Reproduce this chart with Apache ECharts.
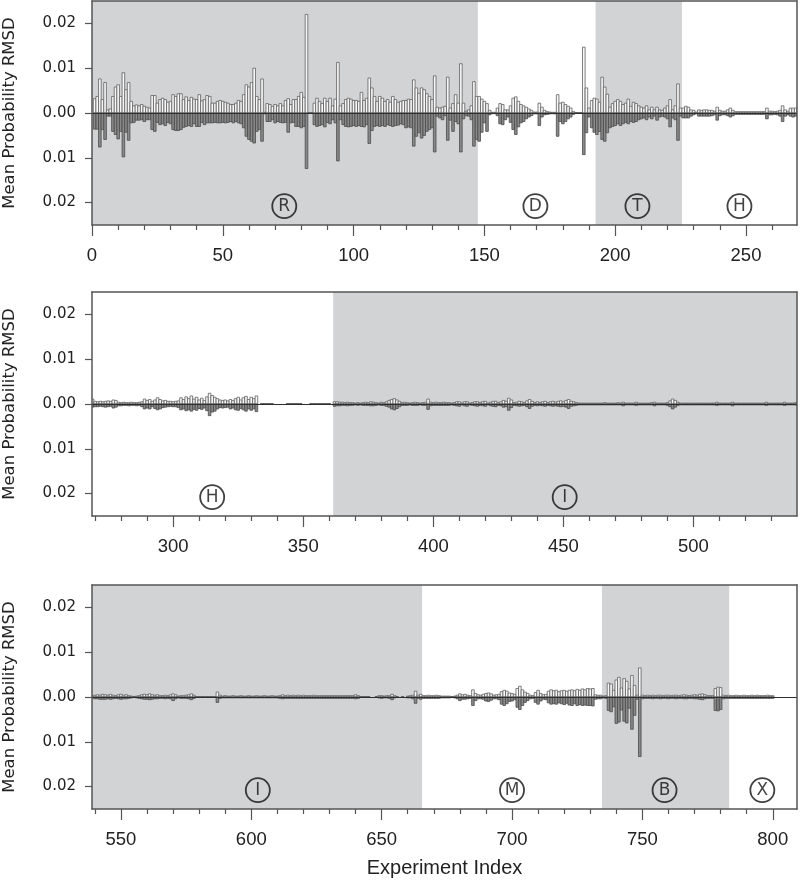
<!DOCTYPE html>
<html><head><meta charset="utf-8">
<script src="https://cdn.jsdelivr.net/npm/echarts@6/dist/echarts.min.js"></script>
<style>html,body{margin:0;padding:0;background:#fff}#c{width:800px;height:884px}</style>
</head><body><div id="c"></div>
<script>
// values in thousandths (x 0.001) of Mean Probability RMSD
// experiments 1..269
const up1 = [
3.2,3.7,7.6,3.0,6.8,0.7,0.9,3.7,5.8,6.3,
3.7,9.0,5.2,6.8,2.6,1.6,1.8,1.6,1.9,1.5,
1.3,1.1,3.9,3.9,2.2,3.0,3.3,3.0,2.4,2.6,
4.1,3.7,4.3,4.3,3.0,3.6,2.8,3.5,3.1,3.0,
4.1,2.7,3.0,3.9,3.7,2.2,2.2,2.6,2.8,2.6,
2.4,2.2,1.9,1.9,2.2,2.8,2.6,4.1,6.3,5.8,
6.8,10.0,3.7,3.0,7.6,0.15,2.1,1.9,1.5,1.9,
1.6,2.1,1.6,2.8,3.2,1.9,3.0,3.0,3.7,4.6,
3.5,22.0,0.1,0.1,2.2,3.3,2.6,2.1,3.3,2.6,
3.3,1.6,3.1,11.3,1.6,2.1,3.0,3.3,3.1,2.8,
2.8,2.6,4.6,2.8,3.3,7.8,5.6,3.7,2.6,3.7,
3.3,2.6,3.0,2.4,3.7,3.0,2.4,2.6,2.8,2.8,
3.1,3.0,7.4,5.6,4.4,5.6,5.2,4.3,3.7,3.0,
8.3,1.3,1.1,1.3,1.5,8.0,1.1,2.1,4.1,2.2,
11.0,2.2,0.4,0.7,1.6,7.0,3.7,3.7,3.1,2.6,
2.1,0.6,0.15,0.15,1.1,2.1,1.9,0.7,0.7,1.6,
3.3,3.6,2.6,1.9,1.6,1.3,0.9,0.6,0.2,0.2,
2.2,1.3,0.6,0.3,0.2,0.15,0.15,4.1,2.2,2.4,
1.9,1.5,1.1,0.3,0.1,0.1,0.1,14.7,5.6,1.1,
2.8,3.3,3.1,2.4,8.0,5.8,4.2,1.3,2.1,2.6,
3.0,2.6,1.9,2.2,3.1,1.5,2.4,2.1,1.6,1.3,
1.1,1.6,0.7,1.3,0.7,1.3,0.7,0.6,1.1,1.6,
3.0,0.7,1.6,6.5,1.1,1.1,1.5,1.3,0.7,0.6,
0.2,0.7,0.6,0.7,0.7,0.6,0.6,0.4,1.3,0.6,
0.4,0.4,0.7,1.1,0.6,0.3,0.3,0.3,0.3,0.3,
0.3,0.3,0.3,0.3,0.3,0.3,0.3,1.1,0.4,0.4,
0.3,0.4,0.6,1.6,0.7,0.4,1.1,1.1,1.1];
const down1 = [
3.6,3.6,7.6,3.7,5.9,0.7,0.7,4.1,4.8,5.8,
4.1,9.8,4.3,6.1,2.2,2.1,1.6,1.6,1.5,1.9,
1.5,1.5,3.7,4.1,2.1,2.6,2.4,2.8,2.1,2.4,
3.7,3.9,3.9,3.7,3.2,3.0,2.8,3.0,2.4,3.0,
3.0,2.1,2.6,2.2,2.2,2.2,2.1,2.2,2.2,2.1,
2.2,2.1,1.9,2.2,1.9,2.2,2.4,3.3,5.2,5.9,
6.3,6.7,4.1,3.7,6.3,0.2,1.9,1.9,1.5,2.2,
1.9,2.1,2.2,2.1,4.3,2.2,2.1,3.0,3.0,3.3,
3.0,12.4,0.1,0.1,2.6,3.0,2.8,2.6,3.1,2.1,
2.4,1.5,2.2,10.7,1.5,2.6,3.0,3.1,3.0,2.8,
3.0,2.8,3.0,3.1,2.6,6.8,3.9,3.0,2.8,3.0,
2.8,3.0,2.6,2.8,3.0,2.8,2.7,2.4,2.6,3.3,
3.1,3.3,7.4,5.2,4.4,5.6,5.0,4.1,3.7,3.3,
8.7,0.7,1.1,1.5,0.6,6.1,1.6,4.1,1.9,2.4,
8.7,1.3,0.6,0.7,1.5,7.4,5.9,6.3,4.3,2.2,
4.1,0.4,0.15,0.15,0.6,2.4,2.6,1.5,0.9,2.1,
3.7,4.8,3.1,2.2,1.9,1.3,0.9,0.6,0.2,0.2,
2.8,0.9,0.4,0.3,0.2,0.15,0.2,5.2,1.9,2.4,
1.9,1.3,0.9,0.3,0.1,0.1,0.1,9.3,4.4,0.9,
3.3,4.3,4.8,4.1,5.9,6.3,4.4,3.3,3.0,2.8,
2.4,2.8,2.4,2.1,2.4,1.9,2.1,1.9,1.5,1.3,
1.1,1.5,0.9,1.3,0.7,1.6,0.9,0.7,0.9,1.3,
3.1,1.1,1.5,6.1,0.7,1.1,1.1,1.1,0.7,0.4,
0.2,0.7,0.7,0.7,0.7,0.7,0.6,0.4,1.6,0.6,
0.4,0.4,0.6,0.9,0.6,0.3,0.3,0.3,0.3,0.3,
0.3,0.3,0.3,0.3,0.3,0.3,0.3,1.3,0.4,0.4,
0.3,0.4,0.7,1.9,0.7,0.4,0.7,0.9,0.7];
// experiments 270..539
const up2 = [
0.6,0.5,0.6,0.5,0.6,0.7,0.6,0.9,0.8,0.4,
0.3,0.4,0.3,0.3,0.4,0.3,0.3,0.4,0.5,1.1,
0.8,1.0,0.6,0.9,1.4,1.0,0.7,0.8,0.6,0.6,
0.5,0.6,0.7,1.4,1.0,1.6,1.2,1.8,1.1,1.5,
0.9,1.3,0.8,1.6,2.4,1.9,1.5,1.2,0.9,0.8,
0.9,0.7,1.0,0.8,1.2,1.5,0.9,1.4,1.7,1.0,
1.5,1.2,1.8,0,0.1,0.1,0.1,0.1,0.1,0,
0,0,0,0,0.1,0.1,0.1,0.1,0.1,0.1,
0,0,0,0.1,0.1,0.1,0.1,0.1,0.1,0.1,
0.1,0,0.5,0.5,0.4,0.4,0.3,0.4,0.3,0.3,
0.2,0.3,0.2,0.3,0.4,0.3,0.5,0.4,0.3,0.2,
0.4,0.3,0.5,0.8,1.0,1.2,0.9,0.6,0.3,0.4,
0.3,0.2,0.3,0.4,0.3,0.2,0.3,0.4,1.1,0.4,
0.3,0.4,0.3,0.3,0.4,0.3,0.3,0.2,0.3,0.5,
0.5,0.2,0.5,0.5,0.2,0.3,0.5,0.5,0.3,0.5,
0.6,0.2,0.4,0.6,0.6,0.3,0.5,0.8,0.6,1.3,
0.9,0.3,0.4,0.6,0.5,0.3,0.7,1.0,0.6,0.3,
0.5,0.3,0.5,0.6,0.3,0.5,0.6,0.4,0.6,0.7,
0.5,0.8,1.0,0.6,0.5,0.3,0.2,0.2,0.2,0.2,
0.2,0.2,0.2,0.2,0.2,0.2,0.3,0.2,0.2,0.2,
0.2,0.3,0.2,0.4,0.2,0.2,0.2,0.2,0.4,0.2,
0.2,0.2,0.2,0.2,0.3,0.4,0.2,0.2,0.2,0.2,
0.3,0.7,1.1,0.8,0.4,0.2,0.2,0.2,0.2,0.2,
0.2,0.2,0.2,0.2,0.2,0.2,0.2,0.2,0.2,0.4,
0.2,0.2,0.2,0.2,0.2,0.4,0.2,0.2,0.2,0.2,
0.2,0.2,0.2,0.2,0.2,0.2,0.2,0.2,0.4,0.2,
0.2,0.2,0.2,0.2,0.2,0.4,0.2,0.2,0.2,0.3];
const down2 = [
0.6,0.6,0.5,0.6,0.7,0.6,0.5,0.9,0.7,0.4,
0.4,0.3,0.3,0.4,0.3,0.3,0.4,0.3,0.6,1.1,
0.9,1.1,0.6,1.0,1.3,1.1,0.8,0.7,0.6,0.5,
0.6,0.6,0.8,1.3,1.1,1.5,1.3,1.6,1.2,1.4,
1.0,1.2,0.9,1.5,2.6,1.8,1.6,1.1,0.8,0.9,
0.8,0.7,1.1,0.9,1.3,1.4,1.0,1.3,1.6,1.1,
1.4,1.1,1.7,0,0.1,0.1,0.1,0.1,0.1,0,
0,0,0,0,0.1,0.1,0.1,0.1,0.1,0.1,
0,0,0,0.1,0.1,0.1,0.1,0.1,0.1,0.1,
0.1,0,0.5,0.4,0.4,0.3,0.3,0.4,0.3,0.3,
0.2,0.3,0.2,0.3,0.3,0.3,0.4,0.4,0.3,0.2,
0.3,0.3,0.5,0.7,1.1,1.3,1.0,0.6,0.3,0.3,
0.3,0.2,0.3,0.3,0.3,0.2,0.3,0.3,1.2,0.4,
0.3,0.3,0.3,0.3,0.3,0.3,0.3,0.2,0.3,0.4,
0.5,0.2,0.4,0.5,0.2,0.3,0.4,0.5,0.3,0.4,
0.5,0.2,0.4,0.5,0.6,0.3,0.4,0.7,0.6,1.4,
0.8,0.3,0.4,0.5,0.4,0.3,0.6,1.0,0.5,0.3,
0.4,0.3,0.4,0.5,0.3,0.4,0.5,0.4,0.5,0.6,
0.5,0.7,1.0,0.5,0.4,0.3,0.2,0.2,0.2,0.2,
0.2,0.2,0.2,0.2,0.2,0.2,0.2,0.2,0.2,0.2,
0.2,0.2,0.2,0.4,0.2,0.2,0.2,0.2,0.3,0.2,
0.2,0.2,0.2,0.2,0.2,0.4,0.2,0.2,0.2,0.2,
0.3,0.6,1.1,0.7,0.3,0.2,0.2,0.2,0.2,0.2,
0.2,0.2,0.2,0.2,0.2,0.2,0.2,0.2,0.2,0.3,
0.2,0.2,0.2,0.2,0.2,0.4,0.2,0.2,0.2,0.2,
0.2,0.2,0.2,0.2,0.2,0.2,0.2,0.2,0.3,0.2,
0.2,0.2,0.2,0.2,0.2,0.3,0.2,0.2,0.2,0.2];
// experiments 540..800
const up3 = [
0.4,0.5,0.4,0.6,0.5,0.4,0.6,0.4,0.3,0.5,
0.6,0.4,0.5,0.3,0.2,0.1,0.2,0.3,0.5,0.6,
0.5,0.7,0.5,0.4,0.5,0.3,0.3,0.4,0.3,0.5,
0.7,0.5,0.2,0.3,0.3,0.4,0.5,0.7,0.4,0.1,
0.1,0.1,0.1,0.1,0.1,0.1,0.1,1.1,0.4,0.2,
0.3,0.2,0.2,0.3,0.2,0.2,0.3,0.2,0.2,0.3,
0.2,0.2,0.3,0.2,0.2,0.3,0.2,0.2,0.3,0.2,
0.2,0.3,0.5,0.3,0.4,0.3,0.4,0.3,0.4,0.3,
0.4,0.3,0.3,0.3,0.4,0.3,0.3,0.3,0.3,0.3,
0.3,0.3,0.3,0.3,0.3,0.3,0.3,0.3,0.3,0.3,
0.5,0.3,0.1,0.1,0.1,0.1,0,0,0.1,0.3,
0.3,0.2,0.3,0.3,0.6,0.3,0.1,0,0.1,0,
0.2,0.3,0.4,1.3,0.4,0.6,0.3,0.3,0.4,0.3,
0.3,0.4,0.3,0.2,0.2,0.2,0.2,0.1,0.2,0.4,
0.7,0.5,0.6,0.4,0.3,1.6,0.8,0.5,0.4,0.6,
0.8,0.9,0.7,0.4,0.5,0.6,1.2,1.5,1.3,0.9,
0.8,0.6,1.9,2.4,1.6,1.1,0.8,0.4,0.3,1.0,
1.5,0.8,0.5,0.6,1.3,1.6,1.4,1.5,1.2,1.4,
1.5,1.3,1.5,1.6,1.4,1.7,1.5,1.8,1.6,1.9,
1.8,1.9,0.5,0.4,0.4,0.2,0.3,3.1,2.9,1.5,
3.8,4.4,2.0,4.1,3.5,1.8,4.8,2.6,0.4,6.5,
0.4,0.3,0.4,0.3,0.4,0.3,0.4,0.4,0.3,0.4,
0.4,0.3,0.4,0.4,0.3,0.4,0.5,0.4,0.3,0.4,
0.5,0.4,0.6,0.7,0.5,0.3,0.3,0.3,1.9,2.2,
2.1,0.4,0.3,0.4,0.3,0.3,0.4,0.3,0.3,0.4,
0.3,0.3,0.4,0.3,0.4,0.3,0.3,0.3,0.4,0.3,0.3];
const down3 = [
0.4,0.4,0.5,0.5,0.5,0.4,0.5,0.4,0.3,0.4,
0.5,0.4,0.4,0.3,0.2,0.1,0.2,0.3,0.4,0.5,
0.5,0.6,0.5,0.4,0.4,0.3,0.3,0.4,0.3,0.4,
0.8,0.4,0.2,0.3,0.3,0.3,0.4,0.6,0.3,0.1,
0.1,0.1,0.1,0.1,0.1,0.1,0.1,1.2,0.3,0.2,
0.2,0.2,0.2,0.2,0.2,0.2,0.2,0.2,0.2,0.2,
0.2,0.2,0.2,0.2,0.2,0.2,0.2,0.2,0.2,0.2,
0.2,0.3,0.4,0.3,0.3,0.3,0.3,0.3,0.3,0.3,
0.3,0.3,0.3,0.3,0.3,0.3,0.3,0.3,0.3,0.3,
0.3,0.3,0.3,0.3,0.3,0.3,0.3,0.3,0.3,0.3,
0.4,0.3,0.1,0.1,0.1,0.1,0,0,0.1,0.2,
0.3,0.2,0.2,0.3,0.6,0.2,0.1,0,0.1,0,
0.2,0.2,0.4,1.4,0.3,0.5,0.3,0.3,0.3,0.3,
0.3,0.3,0.3,0.2,0.2,0.2,0.2,0.1,0.2,0.4,
0.8,0.5,0.5,0.4,0.3,1.9,0.8,0.4,0.4,0.5,
0.9,1.0,0.7,0.4,0.4,0.6,1.6,1.9,1.5,1.0,
0.9,0.6,2.3,2.8,1.9,1.2,0.8,0.4,0.3,1.2,
1.6,0.9,0.5,0.6,1.3,1.6,1.5,1.6,1.3,1.5,
1.7,1.4,1.8,1.9,1.5,1.9,1.7,1.9,1.8,1.9,
1.9,2.0,0.5,0.4,0.4,0.2,0.3,3.0,3.3,2.2,
5.9,5.6,2.9,5.4,5.8,2.5,7.2,4.1,0.5,13.3,
0.4,0.3,0.3,0.3,0.4,0.3,0.3,0.4,0.3,0.3,
0.4,0.3,0.3,0.4,0.3,0.3,0.4,0.4,0.3,0.3,
0.4,0.4,0.5,0.6,0.4,0.3,0.3,0.3,3.0,3.1,
2.8,0.4,0.3,0.3,0.3,0.3,0.3,0.3,0.3,0.3,
0.3,0.3,0.3,0.3,0.3,0.3,0.3,0.3,0.3,0.3,0.3];
const startIndex = [1, 270, 540];

// shaded (grey) index ranges and their circled labels
const shadeRanges = [[-1,147.5],[192.5,225.5],[361.5,665.5],[734.5,783.3]];
const groupLabels = [['R',73.5],['D',169.5],['T',208.5],['H',247.5],['H',315],['I',450.5],['I',602.5],['M',700],['B',758.5],['X',796]];
const panelRanges = [[0,269.5],[268.8,539.8],[538.9,809.3]];
const majorTicks = [[0,50,100,150,200,250],[300,350,400,450,500],[550,600,650,700,750,800]];
const minorTicks = [
 [10,20,30,40,60,70,80,90,110,120,130,140,160,170,180,190,210,220,230,240,260],
 [270,280,290,310,320,330,340,360,370,380,390,410,420,430,440,460,470,480,490,510,520,530],
 [540,560,570,580,590,610,620,630,640,660,670,680,690,710,720,730,740,760,770,780,790]];
const yTicks = [-0.02,-0.01,0,0.01,0.02];

const barData = [];
[[up1,down1],[up2,down2],[up3,down3]].forEach(([u,d],k)=>{
  u.forEach((v,j)=>barData.push([startIndex[k]+j, v*0.001, d[j]*0.001]));
});

const chart = echarts.init(document.getElementById('c'), null, {renderer:'canvas'});
const grids=[], xAxes=[], yAxes=[], series=[];
const tops=[1,292,585];
const axisColor='#555';
const yFont='DejaVu Sans';
const xFont='Liberation Sans';
for(let p=0;p<3;p++){
  grids.push({left:92, right:3, top:tops[p], height:224, outerBoundsMode:'none', containLabel:false});
  const [mn,mx]=panelRanges[p];
  const xi=xAxes.length;
  xAxes.push({gridIndex:p,type:'value',min:mn,max:mx,position:'bottom',z:10,
    axisLine:{show:true,onZero:false,lineStyle:{color:axisColor,width:1.5}},
    axisTick:{show:true,customValues:majorTicks[p],length:11,lineStyle:{color:axisColor,width:1.2}},
    axisLabel:{show:true,customValues:majorTicks[p],margin:21,fontSize:18.5,fontFamily:xFont,color:'#222'},
    splitLine:{show:false},
    name: p===2?'Experiment Index':'', nameLocation:'middle', nameGap:49,
    nameTextStyle:{fontSize:20,fontFamily:xFont,color:'#222'}});
  xAxes.push({gridIndex:p,type:'value',min:mn,max:mx,position:'bottom',z:10,
    axisLine:{show:false,onZero:false},
    axisTick:{show:true,customValues:minorTicks[p],length:5,lineStyle:{color:axisColor,width:1.2}},
    axisLabel:{show:false},splitLine:{show:false}});
  xAxes.push({gridIndex:p,type:'value',min:mn,max:mx,position:'top',z:10,
    axisLine:{show:true,onZero:false,lineStyle:{color:axisColor,width:1.5}},
    axisTick:{show:false},axisLabel:{show:false},splitLine:{show:false}});
  const yi=yAxes.length;
  yAxes.push({gridIndex:p,type:'value',min:-0.025,max:0.025,position:'left',z:10,
    axisLine:{show:true,onZero:false,lineStyle:{color:axisColor,width:1.5}},
    axisTick:{show:true,customValues:yTicks,length:7,lineStyle:{color:axisColor,width:1.2}},
    axisLabel:{show:true,customValues:yTicks,margin:16,fontSize:15,fontFamily:yFont,color:'#222',
      formatter:v=>Math.abs(v).toFixed(2)},
    splitLine:{show:false},
    name:'Mean Probability RMSD',nameLocation:'middle',nameGap:74,
    nameTextStyle:{fontSize:16.5,fontFamily:yFont,color:'#222'}});
  yAxes.push({gridIndex:p,type:'value',min:-0.025,max:0.025,position:'right',z:10,
    axisLine:{show:true,onZero:false,lineStyle:{color:axisColor,width:1.5}},
    axisTick:{show:false},axisLabel:{show:false},splitLine:{show:false}});
  // shading
  series.push({type:'custom',xAxisIndex:xi,yAxisIndex:yi,z:1,clip:true,silent:true,
    data:shadeRanges,
    renderItem:(params,api)=>{
      const a=api.coord([api.value(0),0.025]);
      const b=api.coord([api.value(1),-0.025]);
      const cs=params.coordSys;
      const x0=Math.max(a[0],cs.x), x1=Math.min(b[0],cs.x+cs.width);
      if(x1<=x0) return null;
      return {type:'rect',shape:{x:x0,y:cs.y,width:x1-x0,height:cs.height},style:{fill:'#d2d3d5'}};
    }});
  // bars
  series.push({type:'custom',xAxisIndex:xi,yAxisIndex:yi,z:3,clip:true,silent:true,
    data:barData.filter(d=>d[0]>=mn-1&&d[0]<=mx+1),
    renderItem:(params,api)=>{
      const x=api.value(0),u=api.value(1),d=api.value(2);
      const l=api.coord([x-0.5,0]), r=api.coord([x+0.5,0]);
      const pu=api.coord([x,u]), pd=api.coord([x,-d]);
      const w=r[0]-l[0];
      const ch=[];
      if(u>0) ch.push({type:'rect',shape:{x:l[0],y:pu[1],width:w,height:l[1]-pu[1]},style:{fill:'#f7f7f7',stroke:'#616161',lineWidth:0.8}});
      if(d>0) ch.push({type:'rect',shape:{x:l[0],y:l[1],width:w,height:pd[1]-l[1]},style:{fill:'#898989',stroke:'#4a4a4a',lineWidth:0.8}});
      return {type:'group',children:ch};
    },
    markLine:{silent:true,symbol:['none','none'],label:{show:false},animation:false,
      lineStyle:{color:'#2e2e2e',width:1.2,type:'solid'},data:[{yAxis:0}]}
  });
  // circled group labels
  series.push({type:'scatter',xAxisIndex:xi,yAxisIndex:yi,z:5,silent:true,
    symbol:'circle',symbolSize:24,
    itemStyle:{color:'rgba(0,0,0,0)',borderColor:'#111',borderWidth:1.8},
    label:{show:true,position:'inside',formatter:q=>q.value[2],fontSize:17,fontFamily:yFont,color:'#111'},
    data:groupLabels.filter(g=>g[1]>mn&&g[1]<mx).map(g=>[g[1],-0.0208,g[0]])});
}
chart.setOption({animation:false,grid:grids,xAxis:xAxes,yAxis:yAxes,series:series});
</script></body></html>
